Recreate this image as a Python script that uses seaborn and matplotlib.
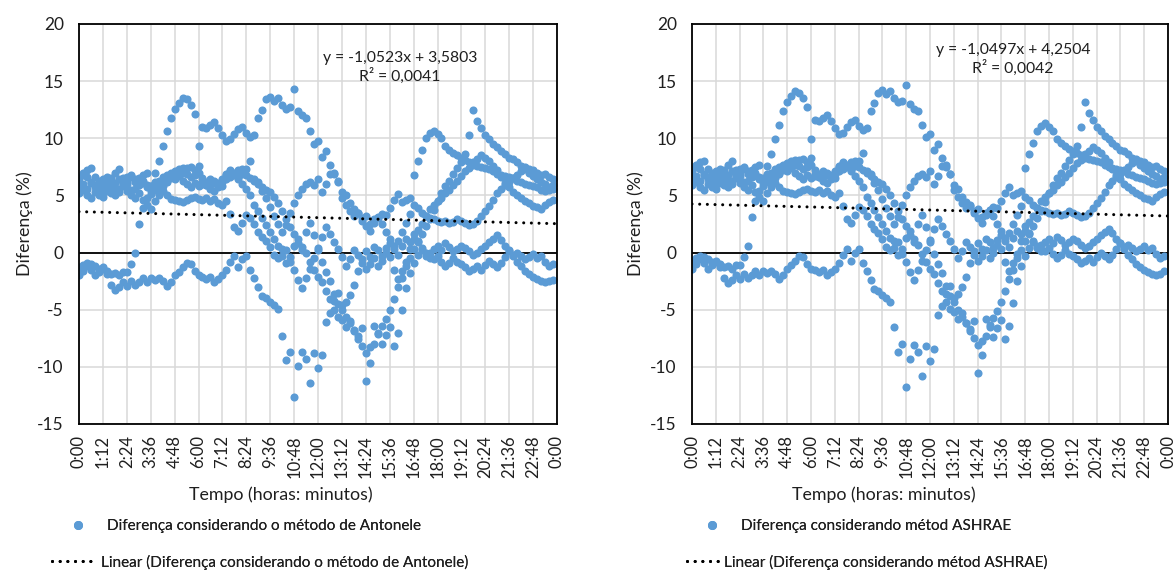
import numpy as np
import pandas as pd
import matplotlib
matplotlib.use("Agg")
import matplotlib.pyplot as plt
import seaborn as sns
from matplotlib.lines import Line2D

# Time axis: 0:00 .. 24:00, ticks every 1:12 (fraction of a day)
tick_labels = ["0:00", "1:12", "2:24", "3:36", "4:48", "6:00", "7:12", "8:24",
               "9:36", "10:48", "12:00", "13:12", "14:24", "15:36", "16:48",
               "18:00", "19:12", "20:24", "21:36", "22:48", "0:00"]

# Sampling instants of each daily record (12-minute steps)
steps_per_day = 120

# ---- Antonele method: difference (%) per day, 12-min samples --------------
ant_day1 = [-1.3, -1.1, -0.9, -1.0, -1.2, -1.4, -1.4, -1.6, -1.9, -1.8, -2.0, -1.7,
            -1.7, -1.0, 0.0, 2.5, 3.9, 4.8, 5.8, 7.0, 8.0, 9.3, 10.6, 11.8,
            12.6, 13.1, 13.5, 13.4, 12.9, 12.1, 9.3, 11.0, 10.9, 11.2, 11.4, 10.9,
            10.3, 9.8, 9.9, 10.4, 10.8, 11.0, 10.5, 10.1, 10.3, 11.8, 12.5, 13.4,
            13.6, 13.3, 13.5, 12.9, 12.6, 12.7, 14.3, 12.4, 12.0, 11.8, 10.6, 9.5,
            9.8, 8.4, 8.9, 7.7, 6.9, 6.3, 5.3, 5.0, 4.3, 3.8, 3.5, 3.0,
            3.2, 2.5, 2.9, 3.1, 3.4, 3.3, 3.9, 4.6, 5.1, 4.4, 4.6, 4.8,
            6.8, 8.0, 9.0, 10.0, 10.5, 10.6, 10.4, 10.0, 9.3, 9.0, 8.7, 8.5,
            8.3, 8.1, 7.9, 7.7, 7.6, 7.5, 7.4, 7.3, 7.1, 6.9, 6.8, 6.7,
            6.6, 6.5, 6.3, 6.2, 6.0, 5.9, 5.8, 5.7, 5.5, 5.4, 5.5, 5.6]
ant_day2 = [-2.0, -1.6, -1.2, -1.5, -2.0, -1.7, -1.3, -1.9, -2.8, -3.3, -3.0, -2.6,
            -2.9, -2.5, -2.8, -2.6, -2.2, -2.6, -2.2, -2.4, -2.2, -2.5, -2.9, -2.6,
            -2.0, -1.7, -1.3, -0.9, -1.0, -1.6, -2.0, -2.1, -2.3, -2.1, -2.6, -2.3,
            -2.0, -1.5, -0.8, -0.3, -1.3, -0.6, -0.3, -1.5, -2.2, -3.0, -3.8, -4.0,
            -4.3, -4.6, -4.9, -7.3, -9.4, -8.7, -12.6, -9.9, -8.7, -9.3, -11.4, -8.8,
            -10.1, -9.0, -6.1, -5.3, -4.2, -3.5, -4.6, -5.6, -6.2, -6.8, -7.3, -6.6,
            -11.2, -8.3, -6.4, -7.1, -8.0, -7.2, -6.5, -8.2, -7.0, -5.0, -3.1, -1.8,
            -0.9, -0.2, 0.4, 0.0, -0.5, 0.3, 0.6, 0.2, 0.8, 0.5, 0.1, 0.3,
            0.6, 0.4, 0.1, -0.2, 0.0, 0.3, 0.6, 0.9, 1.2, 1.5, 1.1, 0.6,
            0.2, -0.3, -0.8, -1.2, -1.6, -1.9, -2.1, -2.3, -2.5, -2.6, -2.5, -2.4]
ant_day3 = [6.2, 6.8, 7.2, 7.4, 6.6, 6.0, 5.5, 5.8, 6.5, 7.0, 7.3, 6.5,
            6.2, 6.6, 6.4, 6.0, 6.8, 7.0, 5.8, 6.2, 6.3, 6.6, 6.4, 6.9,
            7.1, 7.3, 7.0, 7.4, 7.5, 7.2, 7.6, 6.5, 6.2, 6.0, 6.3, 6.1,
            5.8, 6.4, 6.6, 6.9, 7.2, 7.3, 6.8, 6.5, 6.3, 6.0, 5.7, 5.5,
            5.3, 4.9, 4.3, 3.6, 2.9, 2.2, 1.6, 0.8, 0.2, 0.0, -0.8, -1.5,
            -2.1, -2.6, -3.4, -4.1, -5.0, -5.6, -5.9, -6.5, -6.0, -6.9, -7.6, -8.2,
            -8.8, -9.7, -8.0, -7.0, -6.4, -5.8, -5.0, -4.1, -3.0, -2.2, -1.2, -0.5,
            0.3, 1.0, 1.6, 2.3, 2.9, 3.7, 4.5, 5.2, 5.8, 6.3, 6.9, 7.4,
            7.9, 8.6, 10.3, 12.5, 11.5, 10.9, 10.3, 9.9, 9.5, 9.2, 8.9, 8.6,
            8.3, 8.2, 7.9, 7.6, 7.5, 7.3, 7.2, 7.0, 6.8, 6.9, 6.6, 6.4]
ant_day4 = [5.2, 5.5, 5.0, 4.8, 5.3, 5.0, 4.9, 5.4, 5.8, 5.6, 5.3, 5.8,
            6.0, 5.5, 4.8, 5.2, 4.6, 4.2, 3.8, 4.5, 5.0, 5.4, 5.0, 4.7,
            4.6, 4.5, 4.4, 4.6, 4.8, 4.9, 4.7, 4.6, 4.8, 4.5, 4.7, 4.3,
            4.2, 4.5, 3.4, 2.2, 1.9, 2.6, 3.3, 3.0, 2.5, 1.8, 1.4, 1.0,
            0.5, -0.2, -0.5, 0.3, -0.9, -0.4, 0.6, 1.2, 0.5, 1.8, 2.6, 1.5,
            0.2, -0.8, -1.7, -2.5, -3.6, -4.5, -5.0, -4.3, -3.7, -2.8, -1.6, -0.6,
            0.1, -0.4, 0.5, 0.2, -0.3, 0.4, 0.8, 0.3, -0.2, 0.6, 1.2, 0.9,
            1.6, 2.0, 2.5, 3.2, 3.8, 4.2, 4.5, 4.8, 5.2, 5.5, 5.9, 6.3,
            6.7, 7.1, 7.4, 7.9, 8.2, 8.5, 8.3, 8.0, 7.6, 7.2, 6.6, 6.1,
            5.7, 5.3, 5.0, 4.8, 4.5, 4.3, 4.1, 4.0, 3.8, 4.2, 4.4, 4.6]
ant_day5 = [5.8, 6.0, 5.6, 6.1, 5.7, 6.3, 6.4, 6.0, 5.2, 5.0, 5.6, 6.1,
            6.6, 6.8, 6.2, 5.9, 6.3, 5.7, 5.4, 5.9, 6.0, 5.8, 6.2, 6.5,
            6.4, 6.7, 6.3, 6.0, 5.7, 6.1, 5.8, 6.0, 5.9, 5.6, 5.4, 5.7,
            6.2, 6.8, 7.1, 7.0, 6.6, 6.9, 7.3, 8.0, 6.4, 6.2, 5.4, 4.8,
            4.0, 3.2, 2.5, 1.8, 2.4, 3.5, 4.3, 5.0, 5.6, 6.0, 6.2, 5.9,
            6.4, 5.3, 6.0, 6.9, 7.0, 6.2, 4.8, 4.2, 3.6, 3.2, 3.5, 2.8,
            2.3, 1.9, 2.6, 3.0, 2.5, 1.8, 1.2, 0.6, 1.0, 1.8, 2.6, 3.4,
            4.2, 3.9, 3.5, 3.2, 3.0, 2.9, 2.8, 2.7, 2.8, 2.6, 2.7, 2.9,
            2.8, 2.6, 2.4, 2.5, 2.8, 3.2, 3.6, 4.1, 4.6, 5.2, 5.6, 5.9,
            6.2, 6.5, 6.8, 7.1, 7.3, 7.0, 6.7, 6.4, 6.2, 6.0, 5.7, 5.9]
ant_day6 = [6.5, 7.0, 6.6, 6.2, 5.9, 5.6, 6.0, 6.6, 6.3, 6.1, 6.4, 6.0,
            5.4, 5.0, 5.6, 6.5, 6.1, 5.9, 5.1, 5.5, 5.6, 6.0, 6.8, 7.0,
            6.8, 7.0, 7.4, 6.9, 6.6, 6.8, 7.0, 6.2, 5.9, 6.4, 6.1, 5.9,
            6.4, 6.9, 7.2, 6.8, 6.4, 6.0, 5.6, 5.0, 4.2, 3.6, 3.0, 2.4,
            1.8, 1.2, 0.6, -0.3, 0.2, -0.8, -1.5, -2.4, -3.1, -2.2, -1.4, -0.5,
            0.4, 1.4, 2.2, 1.6, 0.9, 0.3, -0.4, -1.2, -0.6, 0.2, -0.2, -0.9,
            -1.4, -1.0, -0.5, -1.2, -0.7, 0.0, -0.4, -1.5, -2.3, -1.6, -0.8, 0.3,
            1.2, 0.9, 0.2, -0.3, 0.0, -0.6, -0.3, -0.8, -1.2, -0.9, -0.5, -0.8,
            -1.0, -1.3, -1.6, -1.4, -1.2, -1.5, -1.1, -0.7, -1.0, -1.3, -0.9, -0.4,
            0.1, -0.2, 0.0, -0.3, -0.6, -0.4, -0.1, -0.5, -0.3, -0.8, -1.2, -1.0]

# ---- ASHRAE method: difference (%) per day, 12-min samples -----------------
ash_day1 = [-0.7, -0.5, -0.3, -0.4, -0.6, -0.8, -0.8, -1.0, -1.3, -1.2, -1.4, -1.1,
            -1.1, -0.4, 0.6, 3.1, 4.5, 5.4, 6.4, 7.6, 8.6, 9.9, 11.2, 12.4,
            13.2, 13.7, 14.1, 14.0, 13.5, 12.7, 9.9, 11.6, 11.5, 11.8, 12.0, 11.5,
            10.9, 10.4, 10.5, 11.0, 11.4, 11.6, 11.1, 10.7, 10.9, 12.4, 13.1, 14.0,
            14.2, 13.9, 14.1, 13.5, 13.2, 13.3, 14.7, 13.0, 12.6, 12.4, 11.2, 10.1,
            10.4, 9.0, 9.5, 8.3, 7.5, 6.9, 5.9, 5.6, 4.9, 4.4, 4.1, 3.6,
            3.8, 3.1, 3.5, 3.7, 4.0, 3.9, 4.5, 5.2, 5.7, 5.0, 5.2, 5.4,
            7.4, 8.6, 9.6, 10.6, 11.1, 11.3, 11.0, 10.6, 9.9, 9.6, 9.3, 9.1,
            8.9, 8.7, 8.5, 8.3, 8.2, 8.1, 8.0, 7.9, 7.7, 7.5, 7.4, 7.3,
            7.2, 7.1, 6.9, 6.8, 6.6, 6.5, 6.4, 6.3, 6.1, 6.0, 6.1, 6.2]
ash_day2 = [-1.4, -1.0, -0.6, -0.9, -1.4, -1.1, -0.7, -1.3, -2.2, -2.7, -2.4, -2.0,
            -2.3, -1.9, -2.2, -2.0, -1.6, -2.0, -1.6, -1.8, -1.6, -1.9, -2.3, -2.0,
            -1.4, -1.1, -0.7, -0.3, -0.4, -1.0, -1.4, -1.5, -1.7, -1.5, -2.0, -1.7,
            -1.4, -0.9, -0.2, 0.3, -0.7, 0.0, 0.3, -0.9, -1.6, -2.4, -3.2, -3.4,
            -3.7, -4.0, -4.3, -6.5, -8.7, -8.0, -11.8, -9.3, -8.1, -8.7, -10.8, -8.2,
            -9.5, -8.4, -5.5, -4.7, -3.6, -2.9, -4.0, -5.0, -5.6, -6.2, -6.7, -6.0,
            -10.5, -7.7, -5.8, -6.5, -7.4, -6.6, -5.9, -7.6, -6.4, -4.4, -2.5, -1.2,
            -0.3, 0.4, 1.0, 0.6, 0.1, 0.9, 1.2, 0.8, 1.4, 1.1, 0.7, 0.9,
            1.2, 1.0, 0.7, 0.4, 0.6, 0.9, 1.2, 1.5, 1.8, 2.1, 1.7, 1.2,
            0.8, 0.3, -0.2, -0.6, -1.0, -1.3, -1.5, -1.7, -1.9, -2.0, -1.9, -1.6]
ash_day3 = [6.9, 7.5, 7.9, 8.0, 7.3, 6.7, 6.2, 6.5, 7.2, 7.7, 8.0, 7.2,
            6.9, 7.3, 7.1, 6.7, 7.5, 7.7, 6.5, 6.9, 7.0, 7.3, 7.1, 7.6,
            7.8, 8.0, 7.7, 8.1, 8.2, 7.9, 8.3, 7.2, 6.9, 6.7, 7.0, 6.8,
            6.5, 7.1, 7.3, 7.6, 7.9, 8.0, 7.5, 7.2, 7.0, 6.7, 6.4, 6.2,
            6.0, 5.6, 5.0, 4.3, 3.6, 2.9, 2.3, 1.5, 0.9, 0.7, -0.1, -0.8,
            -1.4, -1.9, -2.7, -3.4, -4.3, -4.9, -5.2, -5.8, -5.3, -6.2, -6.9, -7.5,
            -8.1, -9.0, -7.3, -6.3, -5.7, -5.1, -4.3, -3.4, -2.3, -1.5, -0.5, 0.2,
            1.0, 1.7, 2.3, 3.0, 3.6, 4.4, 5.2, 5.9, 6.5, 7.0, 7.6, 8.1,
            8.6, 9.3, 11.0, 13.2, 12.2, 11.6, 11.0, 10.6, 10.2, 9.9, 9.6, 9.3,
            9.0, 8.9, 8.6, 8.3, 8.2, 8.0, 7.9, 7.7, 7.5, 7.6, 7.3, 7.1]
ash_day4 = [5.9, 6.2, 5.7, 5.5, 6.0, 5.7, 5.6, 6.1, 6.5, 6.3, 6.0, 6.5,
            6.7, 6.2, 5.5, 5.9, 5.3, 4.9, 4.5, 5.2, 5.7, 6.1, 5.7, 5.4,
            5.3, 5.2, 5.1, 5.3, 5.5, 5.6, 5.4, 5.3, 5.5, 5.2, 5.4, 5.0,
            4.9, 5.2, 4.1, 2.9, 2.6, 3.3, 4.0, 3.7, 3.2, 2.5, 2.1, 1.7,
            1.2, 0.5, 0.2, 1.0, -0.2, 0.3, 1.3, 1.9, 1.2, 2.5, 3.3, 2.2,
            0.9, -0.1, -1.0, -1.8, -2.9, -3.8, -4.3, -3.6, -3.0, -2.1, -0.9, 0.1,
            0.8, 0.3, 1.2, 0.9, 0.4, 1.1, 1.5, 1.0, 0.5, 1.3, 1.9, 1.6,
            2.3, 2.7, 3.2, 3.9, 4.5, 4.9, 5.2, 5.5, 5.9, 6.2, 6.6, 7.0,
            7.4, 7.8, 8.1, 8.6, 8.9, 9.2, 9.0, 8.7, 8.3, 7.9, 7.3, 6.8,
            6.4, 6.0, 5.7, 5.5, 5.2, 5.0, 4.8, 4.7, 4.5, 4.9, 5.1, 5.3]
ash_day5 = [6.5, 6.7, 6.3, 6.8, 6.4, 7.0, 7.1, 6.7, 5.9, 5.7, 6.3, 6.8,
            7.3, 7.5, 6.9, 6.6, 7.0, 6.4, 6.1, 6.6, 6.7, 6.5, 6.9, 7.2,
            7.1, 7.4, 7.0, 6.7, 6.4, 6.8, 6.5, 6.7, 6.6, 6.3, 6.1, 6.4,
            6.9, 7.5, 7.8, 7.7, 7.3, 7.6, 8.0, 8.7, 7.1, 6.9, 6.1, 5.5,
            4.7, 3.9, 3.2, 2.5, 3.1, 4.2, 5.0, 5.7, 6.3, 6.7, 6.9, 6.6,
            7.1, 6.0, 6.7, 7.6, 7.7, 6.9, 5.5, 4.9, 4.3, 3.9, 4.2, 3.5,
            3.0, 2.6, 3.3, 3.7, 3.2, 2.5, 1.9, 1.3, 1.7, 2.5, 3.3, 4.1,
            4.9, 4.6, 4.2, 3.9, 3.7, 3.6, 3.5, 3.4, 3.5, 3.3, 3.4, 3.6,
            3.5, 3.3, 3.1, 3.2, 3.5, 3.9, 4.3, 4.8, 5.3, 5.9, 6.3, 6.6,
            6.9, 7.2, 7.5, 7.8, 8.0, 7.7, 7.4, 7.1, 6.9, 6.7, 6.4, 6.6]
ash_day6 = [7.2, 7.7, 7.3, 6.9, 6.6, 6.3, 6.7, 7.3, 7.0, 6.8, 7.1, 6.7,
            6.1, 5.7, 6.3, 7.2, 6.8, 6.6, 5.8, 6.2, 6.3, 6.7, 7.5, 7.7,
            7.5, 7.7, 8.1, 7.6, 7.3, 7.5, 7.7, 6.9, 6.6, 7.1, 6.8, 6.6,
            7.1, 7.6, 7.9, 7.5, 7.1, 6.7, 6.3, 5.7, 4.9, 4.3, 3.7, 3.1,
            2.5, 1.9, 1.3, 0.4, 0.9, -0.1, -0.8, -1.7, -2.4, -1.5, -0.7, 0.2,
            1.1, 2.1, 2.9, 2.3, 1.6, 1.0, 0.3, -0.5, 0.1, 0.9, 0.5, -0.2,
            -0.7, -0.3, 0.2, -0.5, 0.0, 0.7, 0.3, -0.8, -1.6, -0.9, -0.1, 1.0,
            1.9, 1.6, 0.9, 0.4, 0.7, 0.1, 0.4, -0.1, -0.5, -0.2, 0.2, -0.1,
            -0.3, -0.6, -0.9, -0.7, -0.5, -0.8, -0.4, 0.0, -0.3, -0.6, -0.2, 0.3,
            0.8, 0.5, 0.7, 0.4, 0.1, 0.3, 0.6, 0.2, 0.4, -0.1, -0.5, -0.3]

# Linear trend coefficients (x in fraction of a day)
ant_slope, ant_intercept, ant_r2 = -1.0523, 3.5803, 0.0041
ash_slope, ash_intercept, ash_r2 = -1.0497, 4.2504, 0.0042

ant_label = "Diferença considerando o método de Antonele"
ash_label = "Diferença considerando métod ASHRAE"

BLUE = "#5B9BD5"
GRID = "#D9D9D9"
INK = "#1F1F1F"

sns.set_theme(style="white")
plt.rcParams["font.family"] = ["Lato", "DejaVu Sans"]


def panel_frame(days):
    t = np.arange(steps_per_day) / steps_per_day
    return pd.DataFrame({
        "tempo": np.tile(t, len(days)),
        "dif": np.concatenate([np.asarray(d, dtype=float) for d in days]),
    })


def fmt(v, nd=4):
    return f"{v:.{nd}f}".replace(".", ",")


def draw_panel(ax, df, slope, intercept, r2, eq_x, eq_y):
    ax.axhline(0, color="black", lw=1.3, zorder=1.5)
    sns.scatterplot(data=df, x="tempo", y="dif", ax=ax, color=BLUE, s=34,
                    linewidth=0, alpha=1.0, zorder=2, legend=False)
    xs = np.array([0.0, 1.0])
    sns.lineplot(x=xs, y=slope * xs + intercept, ax=ax, color="black",
                 lw=2.2, linestyle=(0, (0.01, 2.5)), dash_capstyle="round",
                 zorder=3)
    ax.set_xlim(0, 1)
    ax.set_ylim(-15, 20)
    ax.set_xticks(np.arange(len(tick_labels)) / (len(tick_labels) - 1))
    ax.set_xticklabels(tick_labels, rotation=90, fontsize=12, color=INK)
    ax.set_yticks(np.arange(-15, 21, 5))
    ax.set_yticklabels([str(v) for v in range(-15, 21, 5)], fontsize=12.5, color=INK)
    ax.tick_params(axis="both", length=0)
    ax.tick_params(axis="y", pad=11)
    ax.tick_params(axis="x", pad=8)
    ax.grid(True, color=GRID, lw=1.1, zorder=0)
    ax.set_axisbelow(True)
    for sp in ax.spines.values():
        sp.set_visible(True)
        sp.set_color("black")
        sp.set_linewidth(1.3)
    ax.set_xlabel("Tempo (horas: minutos)", fontsize=12.8, color=INK)
    ax.set_ylabel("Diferença (%)", fontsize=12.8, color=INK)
    sign = "-" if slope < 0 else ""
    eq = f"y = {sign}{fmt(abs(slope))}x + {fmt(intercept)}\nR² = {fmt(r2)}"
    ax.text(eq_x, eq_y, eq, transform=ax.transAxes, ha="center", va="top",
            fontsize=11.3, color=INK, linespacing=1.2)


fig = plt.figure(figsize=(11.76, 5.72), dpi=100)
W, H = 1176.0, 572.0
ax1 = fig.add_axes([79 / W, 1 - 424 / H, 478 / W, 400 / H])
ax2 = fig.add_axes([692 / W, 1 - 424 / H, 476 / W, 400 / H])

ant_df = panel_frame([ant_day1, ant_day2, ant_day3, ant_day4, ant_day5, ant_day6])
ash_df = panel_frame([ash_day1, ash_day2, ash_day3, ash_day4, ash_day5, ash_day6])

draw_panel(ax1, ant_df, ant_slope, ant_intercept, ant_r2, (400 - 79) / 478, (424 - 51) / 400)
draw_panel(ax2, ash_df, ash_slope, ash_intercept, ash_r2, (1013 - 692) / 476, (424 - 43) / 400)

ax1.xaxis.set_label_coords((281 - 79) / 478, -(486 - 424) / 400)
ax2.xaxis.set_label_coords((884 - 692) / 476, -(486 - 424) / 400)
ax1.yaxis.set_label_coords((33 - 79) / 478, 0.5)
ax2.yaxis.set_label_coords((644 - 692) / 476, 0.5)


def add_legends(mx, line_x0, line_x1, label):
    fs = 11.0
    px_per_fs = fs * 100 / 72
    dot = Line2D([], [], marker="o", ls="none", color=BLUE, markersize=5.5)
    lg1 = fig.legend([dot], [label], loc="center left", frameon=False,
                     bbox_to_anchor=((mx - 14) / W, 1 - 526 / H),
                     handlelength=28 / px_per_fs, handletextpad=1.0,
                     borderpad=0, borderaxespad=0, fontsize=fs,
                     labelcolor=INK)
    trend = Line2D([], [], color="black", lw=2.2, ls=(0, (0.01, 2.5)),
                   dash_capstyle="round")
    lg2 = fig.legend([trend], [f"Linear ({label})"], loc="center left",
                     frameon=False, bbox_to_anchor=(line_x0 / W, 1 - 562 / H),
                     handlelength=(line_x1 - line_x0) / px_per_fs,
                     handletextpad=0.25, borderpad=0, borderaxespad=0,
                     fontsize=fs, labelcolor=INK)
    fig.add_artist(lg1)
    fig.add_artist(lg2)


add_legends(78, 52, 97, ant_label)
add_legends(712, 687, 720, ash_label)

fig.savefig("out.png", dpi=100)
